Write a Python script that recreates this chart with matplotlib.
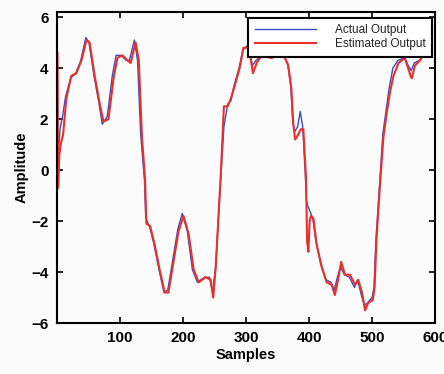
import numpy as np
import matplotlib.pyplot as plt

# Actual output
x_act = [1, 3, 5, 9, 14, 22, 30, 38, 46, 51, 59, 67, 72, 80, 88, 94, 102, 110, 115, 123, 128,
         133, 139, 141, 147, 154, 162, 170, 176, 184, 192, 199, 207, 215, 223, 234, 242, 247,
         252, 256, 260, 265, 271, 276, 281, 289, 295, 303, 305, 310, 316, 325, 340, 355, 361,
         366, 371, 374, 377, 382, 386, 390, 394, 396, 398, 406, 411, 419, 427, 435, 440, 445,
         450, 456, 464, 472, 477, 483, 488, 493, 500, 503, 506, 511, 517, 522, 527, 533, 541,
         551, 562, 567, 575, 583, 590]
y_act = [-0.5, 0.8, 1.6, 2.1, 2.9, 3.6, 3.8, 4.3, 5.2, 5.0, 3.7, 2.6, 1.8, 2.1, 3.7, 4.5, 4.5,
         4.3, 4.3, 5.1, 4.3, 1.4, -0.4, -1.9, -2.2, -2.9, -3.9, -4.8, -4.7, -3.5, -2.3, -1.7,
         -2.4, -3.9, -4.4, -4.2, -4.2, -4.8, -3.8, -2.0, -0.3, 1.7, 2.6, 2.7, 3.3, 4.0, 4.7,
         4.9, 4.8, 4.1, 4.3, 4.5, 4.4, 4.5, 4.4, 4.2, 3.3, 2.0, 1.5, 1.7, 2.3, 1.7, -0.1, -1.2,
         -1.4, -1.9, -2.8, -3.7, -4.3, -4.4, -4.7, -4.2, -3.8, -4.1, -4.2, -4.6, -4.3, -4.9,
         -5.3, -5.2, -5.0, -4.6, -2.8, -0.9, 1.4, 2.3, 3.2, 4.0, 4.3, 4.4, 3.9, 4.2, 4.3, 4.6, 4.5]

# Estimated output
x_est = [1, 2, 4, 6, 10, 15, 23, 31, 39, 47, 52, 60, 68, 74, 82, 90, 96, 104, 112, 117, 125,
         130, 135, 140, 142, 148, 155, 163, 171, 177, 185, 193, 201, 209, 217, 225, 236, 244,
         248, 252, 256, 260, 265, 271, 276, 282, 290, 296, 304, 306, 311, 317, 325, 340, 355,
         362, 367, 372, 375, 378, 383, 387, 391, 395, 397, 399, 401, 403, 407, 412, 420, 428,
         436, 441, 446, 451, 457, 465, 473, 478, 484, 489, 494, 501, 504, 507, 512, 518, 523,
         528, 534, 542, 552, 561, 563, 568, 576, 584, 590]
y_est = [4.6, -0.7, 0.6, 1.0, 1.4, 2.8, 3.7, 3.8, 4.3, 5.1, 5.0, 3.7, 2.6, 1.9, 2.0, 3.6, 4.4,
         4.5, 4.3, 4.2, 5.0, 4.3, 1.3, -0.4, -2.1, -2.2, -2.9, -3.9, -4.8, -4.8, -3.6, -2.4,
         -1.8, -2.5, -3.9, -4.4, -4.2, -4.3, -5.0, -3.8, -2.0, -0.2, 2.5, 2.5, 2.8, 3.3, 4.0,
         4.8, 4.8, 4.6, 3.8, 4.2, 4.5, 4.4, 4.5, 4.4, 4.1, 3.2, 1.8, 1.2, 1.4, 1.6, 1.6, -0.2,
         -2.8, -3.2, -2.0, -1.8, -1.9, -2.9, -3.8, -4.4, -4.5, -4.9, -4.3, -3.6, -4.1, -4.1,
         -4.5, -4.3, -4.8, -5.5, -5.2, -5.1, -4.6, -2.7, -0.8, 1.3, 2.2, 3.0, 3.7, 4.2, 4.4,
         3.7, 3.6, 4.1, 4.3, 4.7, 4.5]

x_ticks = [100, 200, 300, 400, 500, 600]
y_ticks = [-6, -4, -2, 0, 2, 4, 6]

plt.rcParams['font.family'] = ['Liberation Sans', 'DejaVu Sans']

fig = plt.figure(figsize=(4.44, 3.74), dpi=100)
fig.patch.set_facecolor('#fbfbfb')
ax = fig.add_axes([0.128, 0.136, 0.852, 0.832])
ax.set_facecolor('#fbfbfb')

ax.plot(x_act, y_act, color='#3a4cc4', lw=1.0, label='Actual Output')
ax.plot(x_est, y_est, color='#e8302a', lw=1.5, label='Estimated Output')

ax.set_xlim(0, 600)
ax.set_ylim(-6, 6.2)
ax.set_xticks(x_ticks)
ax.set_yticks(y_ticks)
ax.tick_params(direction='in', top=True, right=True, length=4, width=1.2,
               labelsize=11, pad=6)
for lab in ax.get_xticklabels() + ax.get_yticklabels():
    lab.set_fontweight('bold')
for s in ax.spines.values():
    s.set_linewidth(1.5)

ax.set_xlabel('Samples', fontsize=10.5, fontweight='bold', labelpad=2)
ax.set_ylabel('Amplitude', fontsize=10.5, fontweight='bold', labelpad=2)

leg = ax.legend(loc='upper right', bbox_to_anchor=(0.993, 0.982), fontsize=8.5,
                frameon=True, fancybox=False, borderpad=0.55, handlelength=5.2,
                handletextpad=1.6, labelspacing=0.2, borderaxespad=0)
leg.get_frame().set_edgecolor('black')
leg.get_frame().set_linewidth(1.5)
leg.get_frame().set_alpha(1)
leg.get_frame().set_facecolor('white')
for t in leg.get_texts():
    t.set_color('#222222')

fig.savefig('out.png', dpi=100, facecolor=fig.get_facecolor())
